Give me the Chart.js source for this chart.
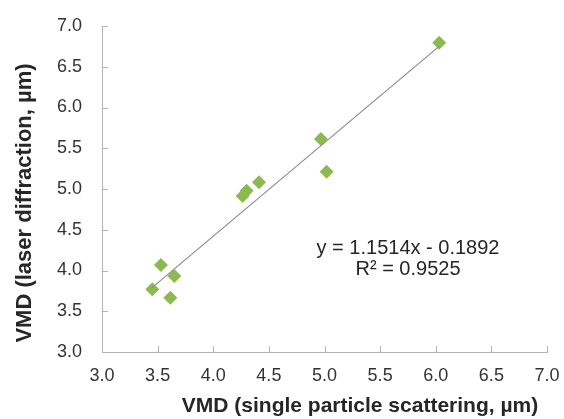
<!DOCTYPE html>
<html>
<head>
<meta charset="utf-8">
<script src="https://cdn.jsdelivr.net/npm/chart.js@4/dist/chart.umd.min.js"></script>
<style>
  html, body { margin: 0; padding: 0; background: #ffffff; }
  #wrap { width: 564px; height: 419px; position: relative; }
</style>
</head>
<body>
<div id="wrap"><canvas id="c" width="564" height="419"></canvas></div>
<script>
// ---- data ----
const singleParticleVMD = [3.452, 3.530, 3.650, 3.614, 6.031, 4.968, 5.019, 4.411, 4.300, 4.264];
const laserDiffractionVMD = [3.769, 4.067, 3.933, 3.666, 6.795, 5.613, 5.212, 5.082, 4.979, 4.914];
const trendX = [3.45, 6.03];
const trendY = [3.79, 6.75];
const xTicks = [3.0, 3.5, 4.0, 4.5, 5.0, 5.5, 6.0, 6.5, 7.0];
const yTicks = [3.0, 3.5, 4.0, 4.5, 5.0, 5.5, 6.0, 6.5, 7.0];
const xTitle = 'VMD (single particle scattering, µm)';
const yTitle = 'VMD (laser diffraction, µm)';
const equationLines = ['y = 1.1514x - 0.1892', 'R² = 0.9525'];

const FONT = "'Liberation Sans', Arial, sans-serif";
const AXIS_COLOR = '#b4b4b4';

const points = singleParticleVMD.map((x, i) => ({ x: x, y: laserDiffractionVMD[i] }));
const trend = trendX.map((x, i) => ({ x: x, y: trendY[i] }));

const decorPlugin = {
  id: 'decor',
  afterDraw(chart) {
    const ctx = chart.ctx;
    const xs = chart.scales.x, ys = chart.scales.y;
    const a = chart.chartArea;
    ctx.save();
    // inward tick marks
    ctx.strokeStyle = AXIS_COLOR;
    ctx.lineWidth = 1;
    ctx.beginPath();
    xTicks.forEach(v => {
      if (v === xTicks[0]) return;
      const px = Math.round(xs.getPixelForValue(v)) + 0.5;
      ctx.moveTo(px, a.bottom);
      ctx.lineTo(px, a.bottom - 6);
    });
    yTicks.forEach(v => {
      if (v === yTicks[0]) return;
      const py = Math.round(ys.getPixelForValue(v)) + 0.5;
      ctx.moveTo(a.left, py);
      ctx.lineTo(a.left + 6, py);
    });
    ctx.stroke();

    // axis titles
    ctx.fillStyle = '#262626';
    ctx.textAlign = 'center';
    ctx.textBaseline = 'middle';
    ctx.font = "bold 21px " + FONT;
    ctx.fillText(xTitle, 360, 406);
    ctx.save();
    ctx.translate(25, 203);
    ctx.rotate(-Math.PI / 2);
    ctx.font = "bold 22px " + FONT;
    ctx.fillText(yTitle, 0, 0);
    ctx.restore();

    // trendline equation
    ctx.font = "20px " + FONT;
    ctx.fillStyle = '#262626';
    ctx.fillText(equationLines[0], 408, 248);
    ctx.fillText(equationLines[1], 408, 269);
    ctx.restore();
  }
};

new Chart(document.getElementById('c'), {
  type: 'scatter',
  data: {
    datasets: [
      {
        type: 'line',
        label: 'trend',
        data: trend,
        borderColor: '#8c8c8c',
        borderWidth: 1.2,
        pointRadius: 0,
        fill: false,
        tension: 0
      },
      {
        label: 'VMD',
        data: points,
        pointStyle: 'rectRot',
        pointRadius: 7,
        pointHoverRadius: 7,
        backgroundColor: '#8dba4e',
        borderColor: '#8dba4e',
        borderWidth: 0
      }
    ]
  },
  options: {
    responsive: false,
    animation: false,
    events: [],
    layout: { padding: { left: 0, right: 17, top: 26, bottom: 0 } },
    plugins: {
      legend: { display: false },
      tooltip: { enabled: false },
      title: { display: false }
    },
    scales: {
      x: {
        type: 'linear',
        min: 3, max: 7,
        afterBuildTicks: s => { s.ticks = xTicks.map(v => ({ value: v })); },
        afterFit: s => { s.height = 67; s.paddingLeft = 0; s.paddingRight = 0; },
        grid: { display: false, drawTicks: false },
        border: { display: true, color: AXIS_COLOR, width: 1 },
        ticks: {
          padding: 13,
          color: '#333333',
          font: { family: FONT, size: 18 },
          maxRotation: 0,
          autoSkip: false,
          callback: v => Number(v).toFixed(1)
        },
        title: { display: false }
      },
      y: {
        type: 'linear',
        min: 3, max: 7,
        afterBuildTicks: s => { s.ticks = yTicks.map(v => ({ value: v })); },
        afterFit: s => { s.width = 102; s.paddingTop = 0; s.paddingBottom = 0; },
        grid: { display: false, drawTicks: false },
        border: { display: true, color: AXIS_COLOR, width: 1 },
        ticks: {
          padding: 20,
          color: '#333333',
          font: { family: FONT, size: 18 },
          autoSkip: false,
          callback: v => Number(v).toFixed(1)
        },
        title: { display: false }
      }
    }
  },
  plugins: [decorPlugin]
});
</script>
</body>
</html>
